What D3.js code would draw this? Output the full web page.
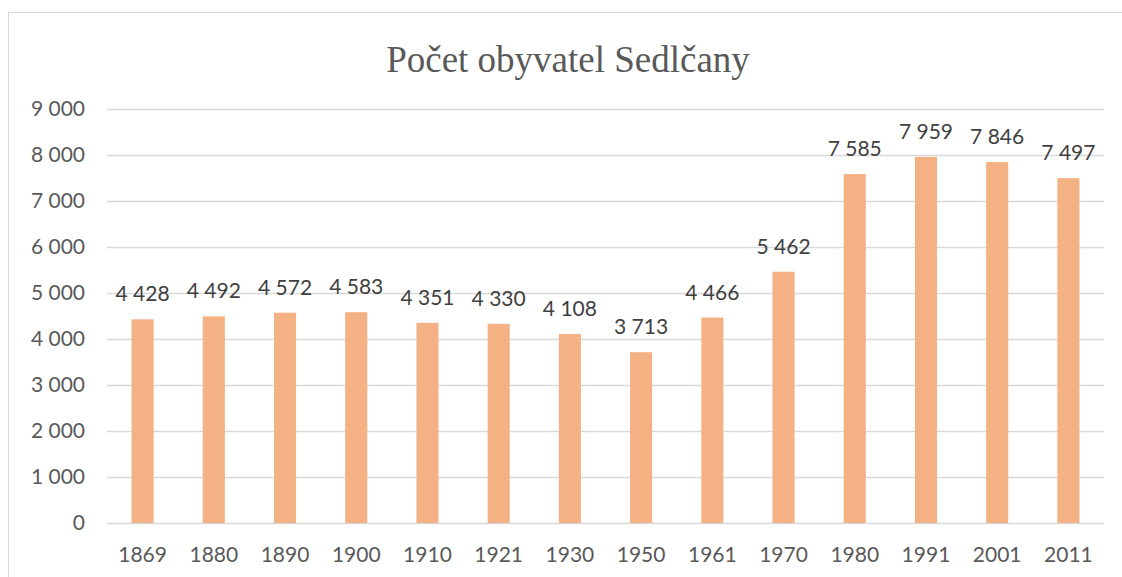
<!DOCTYPE html>
<html>
<head>
<meta charset="utf-8">
<script src="https://cdn.jsdelivr.net/npm/d3@7"></script>
<style>
  body { margin: 0; background: #fff; }
  svg { display: block; }
</style>
</head>
<body>
<svg width="1122" height="577"></svg>
<script>
const years = ["1869", "1880", "1890", "1900", "1910", "1921", "1930", "1950", "1961", "1970", "1980", "1991", "2001", "2011"];
const population = [4428, 4492, 4572, 4583, 4351, 4330, 4108, 3713, 4466, 5462, 7585, 7959, 7846, 7497];
const yTicks = [0, 1000, 2000, 3000, 4000, 5000, 6000, 7000, 8000, 9000];
const title = "Počet obyvatel Sedlčany";

const svg = d3.select("svg");
const plotLeft = 107, plotRight = 1104, plotTop = 109, plotBottom = 523;

const fmt = (v) => d3.format(",")(v).replace(/,/g, " ");

svg.append("rect")
  .attr("x", 8.5).attr("y", 12.5)
  .attr("width", 1130).attr("height", 580)
  .attr("fill", "#fff").attr("stroke", "#d9d9d9");

svg.append("text")
  .attr("x", 568).attr("y", 72)
  .attr("text-anchor", "middle")
  .attr("font-family", "Liberation Serif, Times New Roman, serif")
  .attr("font-size", 37)
  .attr("fill", "#595959")
  .text(title);

const xScale = d3.scaleBand().domain(years).range([plotLeft, plotRight]).paddingInner(0.69).paddingOuter(0.345);
const yScale = d3.scaleLinear().domain([0, 9000]).range([plotBottom, plotTop]);

// gridlines
svg.append("g")
  .selectAll("line")
  .data(yTicks)
  .enter()
  .append("line")
  .attr("x1", plotLeft).attr("x2", plotRight)
  .attr("y1", (d) => Math.round(yScale(d)) + 0.5)
  .attr("y2", (d) => Math.round(yScale(d)) + 0.5)
  .attr("stroke", "#d9d9d9").attr("stroke-width", 1.5);

const yAxis = d3.axisLeft(yScale).tickValues(yTicks).tickFormat(fmt).tickSize(0).tickPadding(22);
const gy = svg.append("g").attr("transform", `translate(${plotLeft},0)`).call(yAxis);
gy.select(".domain").remove();
gy.selectAll("text")
  .attr("font-family", "Lato, Open Sans, sans-serif")
  .attr("font-size", 21)
  .attr("fill", "#595959");

svg.selectAll(".bar")
  .data(population)
  .enter()
  .append("rect")
  .attr("class", "bar")
  .attr("x", (d, i) => xScale(years[i]))
  .attr("y", (d) => yScale(d))
  .attr("width", xScale.bandwidth())
  .attr("height", (d) => yScale(0) - yScale(d))
  .attr("fill", "#f4b183");

const xAxis = d3.axisBottom(xScale).tickSize(0).tickPadding(24);
const gx = svg.append("g").attr("transform", `translate(0,${plotBottom})`).call(xAxis);
gx.select(".domain").remove();
gx.selectAll("text")
  .attr("font-family", "Lato, Open Sans, sans-serif")
  .attr("font-size", 21)
  .attr("fill", "#595959");

svg.selectAll(".label")
  .data(population)
  .enter()
  .append("text")
  .attr("class", "label")
  .attr("x", (d, i) => xScale(years[i]) + xScale.bandwidth() / 2)
  .attr("y", (d) => yScale(d) - 18)
  .attr("text-anchor", "middle")
  .attr("font-family", "Lato, Open Sans, sans-serif")
  .attr("font-size", 21)
  .attr("fill", "#404040")
  .text(fmt);
</script>
</body>
</html>
